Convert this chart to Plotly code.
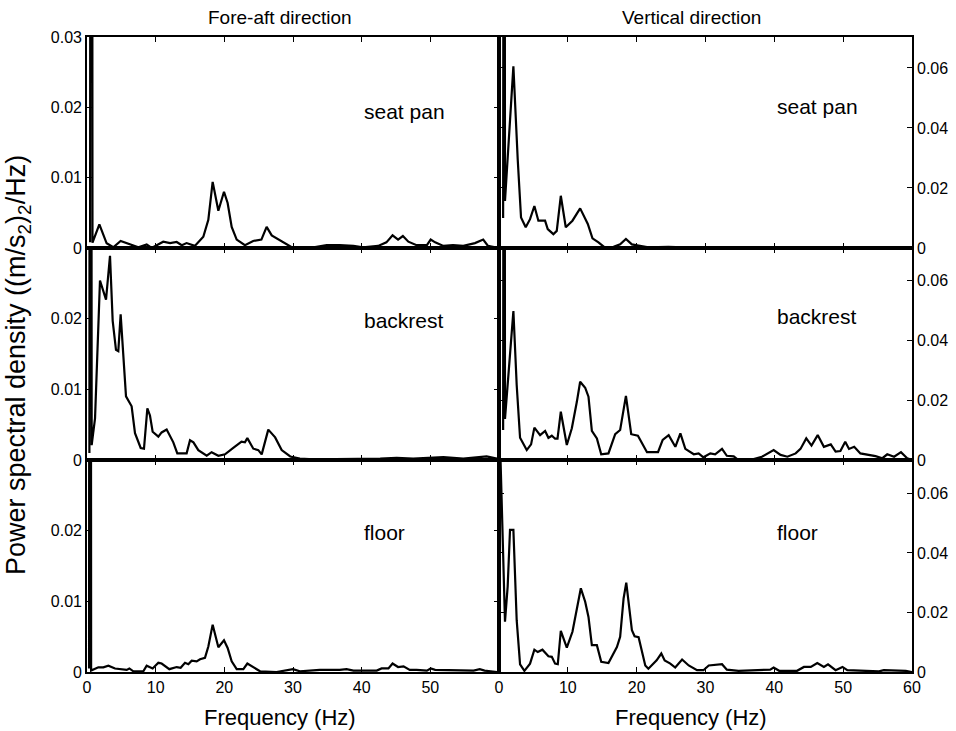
import plotly.graph_objects as go

# ---------------- data ----------------
# Fore-aft direction (left column)
fa_seat_f = [0.45, 0.62, 0.8, 1.8, 2.86, 3.83, 4.9, 6.26, 7.48, 8.69, 9.42, 11.1, 12.1, 13.06, 13.8, 14.5,
             15.7, 16.94, 17.67, 18.3, 19.13, 19.95, 20.48, 21.07, 21.8, 23.0, 24.2, 25.4, 26.16, 26.9,
             27.9, 28.8, 30.0, 33.0, 34.9, 36.8, 38.8, 40.2, 42.4, 43.6, 44.5, 45.3, 46.0, 46.8, 48.0,
             49.5, 50.05, 50.7, 51.9, 53.3, 54.8, 56.5, 57.7, 58.4, 59.2, 60.0]
fa_seat_p = [0.0008, 0.3, 0.00076, 0.00337, 0.00067, 0.0001, 0.001, 0.00052, 0.0001, 0.0005, 0.0, 0.0009,
             0.0007, 0.00085, 0.0004, 0.0007, 0.0003, 0.0016, 0.004, 0.0094, 0.0053, 0.008, 0.0064, 0.003,
             0.0012, 0.0004, 0.001, 0.0012, 0.003, 0.0018, 0.0012, 0.0007, 0.0, 0.0001, 0.0004, 0.0004,
             0.0003, 0.0001, 0.0003, 0.0008, 0.0018, 0.0012, 0.0017, 0.0009, 0.0004, 0.0004, 0.0012,
             0.0008, 0.0003, 0.0004, 0.0003, 0.0007, 0.0012, 0.0003, 0.0001, 0.0]

fa_back_f = [0.35, 0.5, 0.68, 1.17, 1.89, 2.77, 3.35, 3.74, 4.22, 4.56, 4.9, 5.29, 5.68, 6.5, 6.99, 7.82,
             8.3, 8.79, 9.17, 9.56, 10.39, 10.87, 11.6, 12.57, 13.15, 14.51, 15.0, 15.5, 16.21, 17.43,
             18.15, 19.13, 20.1, 21.3, 22.5, 23.0, 23.35, 24.22, 24.95, 25.44, 26.4, 27.4, 28.35, 29.6,
             31.0, 33.0, 37.8, 42.7, 45.1, 47.5, 51.9, 54.8, 58.2, 59.7]
fa_back_p = [0.001, 0.3, 0.0021, 0.0059, 0.0254, 0.0227, 0.0289, 0.0197, 0.0156, 0.0154, 0.0206, 0.0149,
             0.009, 0.0076, 0.0038, 0.0017, 0.0016, 0.0073, 0.0063, 0.004, 0.0033, 0.0039, 0.0043, 0.0025,
             0.00095, 0.00095, 0.0028, 0.0025, 0.0014, 0.0006, 0.0011, 0.0006, 0.0008, 0.0017, 0.0026,
             0.0025, 0.0031, 0.0016, 0.0014, 0.0008, 0.0043, 0.0032, 0.0014, 0.0005, 0.0002, 0.0001,
             0.0001, 0.0002, 0.0003, 0.0002, 0.0004, 0.0002, 0.0005, 0.0002]

fa_floor_f = [0.3, 0.45, 0.6, 1.65, 2.38, 3.11, 4.08, 5.05, 5.78, 6.17, 6.75, 8.2, 8.69, 9.56, 10.39, 10.87,
              11.99, 13.06, 13.64, 14.27, 14.76, 15.24, 15.97, 16.46, 17.18, 17.67, 18.3, 19.13, 19.95,
              20.48, 21.07, 21.8, 22.77, 23.35, 24.22, 25.2, 27.6, 30.0, 31.0, 33.9, 36.8, 37.8, 38.8,
              42.2, 42.9, 43.9, 44.5, 45.3, 46.1, 47.0, 48.0, 49.5, 50.05, 50.7, 56.3, 57.2, 57.9, 59.7]
fa_floor_p = [0.0005, 0.3, 0.0002, 0.00066, 0.00066, 0.0009, 0.0005, 0.0004, 0.0003, 0.0005, 0.0001, 0.0001,
              0.0009, 0.0005, 0.0013, 0.0012, 0.0004, 0.0007, 0.0006, 0.0013, 0.0011, 0.0016, 0.0015, 0.0018,
              0.002, 0.0036, 0.0067, 0.0035, 0.0045, 0.0034, 0.0015, 0.0004, 0.0004, 0.0012, 0.0007, 0.0001,
              0.0, 0.0004, 0.0001, 0.0003, 0.0003, 0.0004, 0.0002, 0.0002, 0.0005, 0.0005, 0.0012, 0.0007,
              0.0008, 0.0003, 0.0003, 0.0002, 0.0005, 0.0003, 0.0002, 0.0004, 0.0002, 0.0]

# Vertical direction (right column)
v_seat_f = [0.6, 0.75, 0.87, 2.09, 2.72, 3.2, 3.88, 4.51, 5.14, 5.72, 6.69, 7.08, 7.9, 8.39, 8.98, 9.7,
            10.67, 11.79, 12.9, 13.58, 14.45, 15.4, 16.64, 17.6, 18.44, 19.3, 20.28, 21.7, 24.6, 25.6,
            26.8, 30.0, 40.0, 50.0, 60.0]
v_seat_p = [0.01, 0.4, 0.0157, 0.0605, 0.0295, 0.0102, 0.0069, 0.0096, 0.014, 0.0091, 0.0091, 0.0063,
            0.0046, 0.0057, 0.0174, 0.0069, 0.0091, 0.0132, 0.008, 0.0032, 0.0019, 0.0001, 0.0004, 0.0012,
            0.003, 0.0012, 0.0008, 0.0002, 0.0004, 0.0004, 0.0002, 0.0, 0.0, 0.0, 0.0]

v_back_f = [0.6, 0.75, 0.87, 2.09, 2.57, 3.06, 4.03, 4.66, 5.14, 5.97, 6.7, 7.18, 7.67, 8.15, 8.5, 8.98,
            9.85, 10.58, 11.31, 11.79, 12.52, 13.0, 13.49, 14.22, 14.85, 15.9, 16.88, 17.6, 18.44, 19.21,
            20.18, 21.5, 23.1, 23.78, 24.65, 25.62, 26.35, 27.07, 28.3, 29.0, 29.7, 30.7, 31.4, 32.4,
            33.1, 34.1, 34.6, 37.0, 38.2, 39.9, 40.9, 41.9, 43.1, 43.8, 44.64, 45.4, 46.3, 47.2, 48.2,
            48.9, 49.6, 50.3, 50.85, 51.6, 52.5, 53.8, 54.7, 55.7, 56.4, 57.4, 58.4, 59.3, 60.0]
v_back_p = [0.01, 0.4, 0.0137, 0.0497, 0.025, 0.0074, 0.0033, 0.0052, 0.0108, 0.0083, 0.0097, 0.0074,
            0.0081, 0.0071, 0.0071, 0.0161, 0.005, 0.0106, 0.0194, 0.0261, 0.0241, 0.0211, 0.0097, 0.0072,
            0.0019, 0.0022, 0.0086, 0.01, 0.0214, 0.0086, 0.0081, 0.0026, 0.0026, 0.0067, 0.0083, 0.0044,
            0.0089, 0.0037, 0.0019, 0.0022, 0.0009, 0.0022, 0.0019, 0.0037, 0.0014, 0.0012, 0.0003,
            0.0003, 0.0011, 0.0033, 0.0017, 0.0011, 0.0022, 0.0037, 0.0072, 0.0048, 0.0083, 0.0044,
            0.0052, 0.0028, 0.003, 0.0061, 0.0037, 0.0044, 0.0022, 0.0017, 0.0013, 0.0006, 0.0019,
            0.0011, 0.0026, 0.0006, 0.0]

v_floor_f = [0.0, 0.87, 1.26, 1.6, 2.09, 2.57, 3.06, 3.69, 4.51, 5.14, 5.63, 6.31, 7.18, 7.67, 8.15, 8.54,
             8.98, 9.85, 10.67, 11.31, 11.89, 12.52, 13.0, 13.49, 14.22, 14.85, 15.9, 17.13, 17.6, 18.1,
             18.49, 19.31, 19.7, 20.28, 21.25, 21.7, 22.9, 23.58, 24.07, 24.89, 25.6, 26.6, 27.56, 28.77,
             29.7, 30.47, 31.4, 32.4, 33.1, 34.8, 39.4, 39.9, 40.7, 43.3, 44.3, 45.3, 46.24, 47.2, 47.8,
             48.9, 49.9, 50.6, 55.2, 55.9, 59.1, 60.0]
v_floor_p = [0.09, 0.0169, 0.0287, 0.0477, 0.0477, 0.0174, 0.0026, 0.0004, 0.0028, 0.0075, 0.0067, 0.0075,
             0.0053, 0.0051, 0.0028, 0.0026, 0.0138, 0.0082, 0.0135, 0.0208, 0.0281, 0.0236, 0.0185, 0.009,
             0.009, 0.0034, 0.003, 0.0084, 0.0118, 0.0247, 0.03, 0.014, 0.012, 0.0117, 0.0022, 0.0011,
             0.0039, 0.0062, 0.0039, 0.0028, 0.0015, 0.0042, 0.0022, 0.0006, 0.0006, 0.0022, 0.0024,
             0.0026, 0.0008, 0.0004, 0.0008, 0.0015, 0.0004, 0.0004, 0.0017, 0.0017, 0.003, 0.0017,
             0.0026, 0.0006, 0.0017, 0.0006, 0.0002, 0.0006, 0.0004, 0.0]

col_titles = ["Fore-aft direction", "Vertical direction"]
row_labels = ["seat pan", "backrest", "floor"]
x_label = "Frequency (Hz)"
y_label = "Power spectral density ((m/s<sub>2</sub>)<sub>2</sub>/Hz)"

left_ticks = [[0, 0.01, 0.02, 0.03], [0, 0.01, 0.02], [0, 0.01, 0.02]]
left_text = [["0", "0.01", "0.02", "0.03"], ["0", "0.01", "0.02"], ["0", "0.01", "0.02"]]
right_ticks = [0, 0.02, 0.04, 0.06]
right_text = ["0", "0.02", "0.04", "0.06"]
x_ticks_left = [0, 10, 20, 30, 40, 50]
x_ticks_right = [0, 10, 20, 30, 40, 50, 60]
x_text_left = ["0", "10", "20", "30", "40", "50"]
x_text_right = ["0", "10", "20", "30", "40", "50", "60"]

series = [
    [(fa_seat_f, fa_seat_p), (v_seat_f, v_seat_p)],
    [(fa_back_f, fa_back_p), (v_back_f, v_back_p)],
    [(fa_floor_f, fa_floor_p), (v_floor_f, v_floor_p)],
]

# ---------------- layout geometry ----------------
W, H = 956, 731
FONT = "Liberation Sans, Arial, sans-serif"
xdom = [[87 / W, 499 / W], [499 / W, 912 / W]]
ypx = [(37, 248), (248, 460), (460, 672)]
ydom = [[1 - b / H, 1 - t / H] for (t, b) in ypx]
left_range = [0, 0.03]
right_ranges = [[0, 0.0703], [0, 0.0707], [0, 0.0712]]

fig = go.Figure()
layout = {}
idx = 0
for r in range(3):
    for c in range(2):
        idx += 1
        xa = "xaxis" if idx == 1 else f"xaxis{idx}"
        ya = "yaxis" if idx == 1 else f"yaxis{idx}"
        xref = "x" if idx == 1 else f"x{idx}"
        yref = "y" if idx == 1 else f"y{idx}"
        f, p = series[r][c]
        fig.add_trace(go.Scatter(x=f, y=p, mode="lines", xaxis=xref, yaxis=yref,
                                 line=dict(color="black", width=2.2), showlegend=False,
                                 hoverinfo="skip"))
        common = dict(showline=True, linecolor="black", linewidth=1.6, mirror="allticks",
                      ticks="inside", ticklen=5, tickwidth=1, tickcolor="black",
                      showgrid=False, zeroline=False,
                      tickfont=dict(family=FONT, size=16, color="black"))
        layout[xa] = dict(common, domain=xdom[c], range=[0, 60], anchor=yref,
                          tickvals=(x_ticks_left if c == 0 else x_ticks_right),
                          ticktext=(x_text_left if c == 0 else x_text_right),
                          showticklabels=(r == 2))
        if c == 0:
            layout[ya] = dict(common, domain=ydom[r], range=left_range, anchor=xref,
                              tickvals=left_ticks[r], ticktext=left_text[r], side="left")
        else:
            layout[ya] = dict(common, domain=ydom[r], range=right_ranges[r], anchor=xref,
                              tickvals=right_ticks, ticktext=right_text, side="right")

annotations = []
title_x = [280 / W, 691 / W]
for c in range(2):
    annotations.append(dict(text=col_titles[c], x=title_x[c], y=1 - 17 / H, xref="paper", yref="paper",
                            xanchor="center", yanchor="middle", showarrow=False,
                            font=dict(family=FONT, size=19, color="black")))
    annotations.append(dict(text=x_label, x=title_x[c], y=1 - 717 / H, xref="paper", yref="paper",
                            xanchor="center", yanchor="middle", showarrow=False,
                            font=dict(family=FONT, size=22, color="black")))
label_x = [362 / W, 775 / W]
label_y = [[111.7, 106.7], [320, 316.7], [532.7, 532.7]]
for r in range(3):
    for c in range(2):
        annotations.append(dict(text=row_labels[r], x=label_x[c], y=1 - label_y[r][c] / H,
                                xref="paper", yref="paper", xanchor="left", yanchor="middle",
                                showarrow=False, font=dict(family=FONT, size=21, color="black")))
annotations.append(dict(text=y_label, x=18 / W, y=1 - 365 / H, xref="paper", yref="paper",
                        xanchor="center", yanchor="middle", textangle=-90, showarrow=False,
                        font=dict(family=FONT, size=27, color="black")))

fig.update_layout(**layout)
fig.update_layout(width=W, height=H, margin=dict(l=0, r=0, t=0, b=0, autoexpand=False),
                  paper_bgcolor="white", plot_bgcolor="white",
                  annotations=annotations, showlegend=False)

fig.write_html("out.html", config={"displayModeBar": False},
               post_script="document.body.style.margin='0';document.body.style.overflow='hidden';")
